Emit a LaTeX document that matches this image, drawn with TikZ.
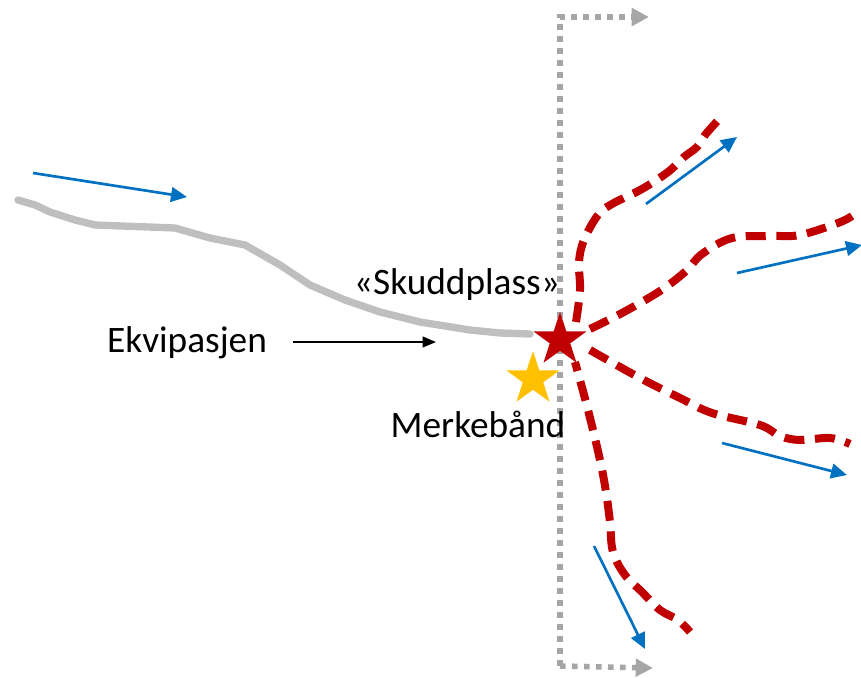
\documentclass[tikz,border=0pt]{standalone}
\usepackage{fontspec}
\setmainfont{Carlito}
\usetikzlibrary{arrows.meta,shapes.geometric,positioning}
\definecolor{trackgray}{HTML}{BFBFBF}
\definecolor{linegray}{HTML}{A6A6A6}
\definecolor{trailred}{HTML}{C00000}
\definecolor{dirblue}{HTML}{0070C0}
\definecolor{staryellow}{HTML}{FFC000}

\begin{document}
\begin{tikzpicture}[x=0.75pt,y=-0.75pt,
        textlabel/.style={font=\fontsize{28}{32}\selectfont,inner sep=2pt},
        track/.style={draw=trackgray,line width=5.5pt,line join=round,line cap=round},
        border/.style={draw=linegray,line width=4.2pt,dash pattern=on 4.2pt off 4.8pt,
          -{Triangle[length=13pt,width=13pt]}},
        trail/.style={draw=trailred,line width=6pt,dash pattern=on 15pt off 8pt},
        dir/.style={draw=dirblue,line width=2pt,-{Triangle[length=12pt,width=11pt]}},
        pointer/.style={draw=black,line width=1.5pt,-{Triangle[length=10pt,width=8pt]}},
        starmark/.style={star,star points=5,star point ratio=2.6,minimum size=42pt,inner sep=0pt,draw=none}]
        \useasboundingbox (0,0) rectangle (861,678);
        % border of the area
        \draw[border] (560,666) |- (649,17);
        \draw[border] (560,666) -- (653,668);
        % the track of the dog
        \draw[track] plot coordinates {(18,200) (35,205) (50,212) (75,220) (95,225) (175,228)
          (210,238) (245,245) (280,265) (310,285) (345,300) (380,312) (420,322)
          (470,330) (500,333) (530,334)};
        % possible trails after the shot
        \draw[trail] plot[smooth,tension=0.6] coordinates {(576,322) (580,290) (579,262)
          (584,240) (598,215) (612,204) (642,189) (668,172) (684,157) (697,147) (705,135) (722,116)};
        \draw[trail] plot[smooth,tension=0.6] coordinates {(590,329) (622,313) (660,291)
          (686,271) (702,254) (732,238) (770,236) (800,235) (838,223) (852,216)};
        \draw[trail] plot[smooth,tension=0.6] coordinates {(590,350) (640,378) (680,398)
          (712,413) (760,425) (780,436) (800,440) (830,438) (850,444)};
        \draw[trail,dash phase=8pt] plot[smooth,tension=0.6] coordinates {(575,362) (588,410) (600,460)
          (606,492) (610,522) (613,552) (625,575) (642,592) (660,610) (678,620) (690,632)};
        % directions
        \draw[dir] (33,173) -- (187,197);
        \draw[dir] (646,204) -- (737,137);
        \draw[dir] (737,273) -- (862,245);
        \draw[dir] (722,443) -- (847,475);
        \draw[dir] (594,546) -- (645,649);
        % stars
        \node[starmark,fill=trailred] (skudd) at (560,340) {};
        \node[starmark,fill=staryellow] (merke) at (533,379) {};
        % labels
        \node[textlabel] (skuddplass) at (457,285) {«Skuddplass»};
        \node[textlabel] (merkebaand) at (478,424) {Merkebånd};
        \node[textlabel] (ekvipasjen) at (187,343) {Ekvipasjen};
        \coordinate (pointer tip) at (436,342);
        \draw[pointer,shorten <=17pt] (ekvipasjen.east |- pointer tip) -- (pointer tip);
\end{tikzpicture}
\end{document}
